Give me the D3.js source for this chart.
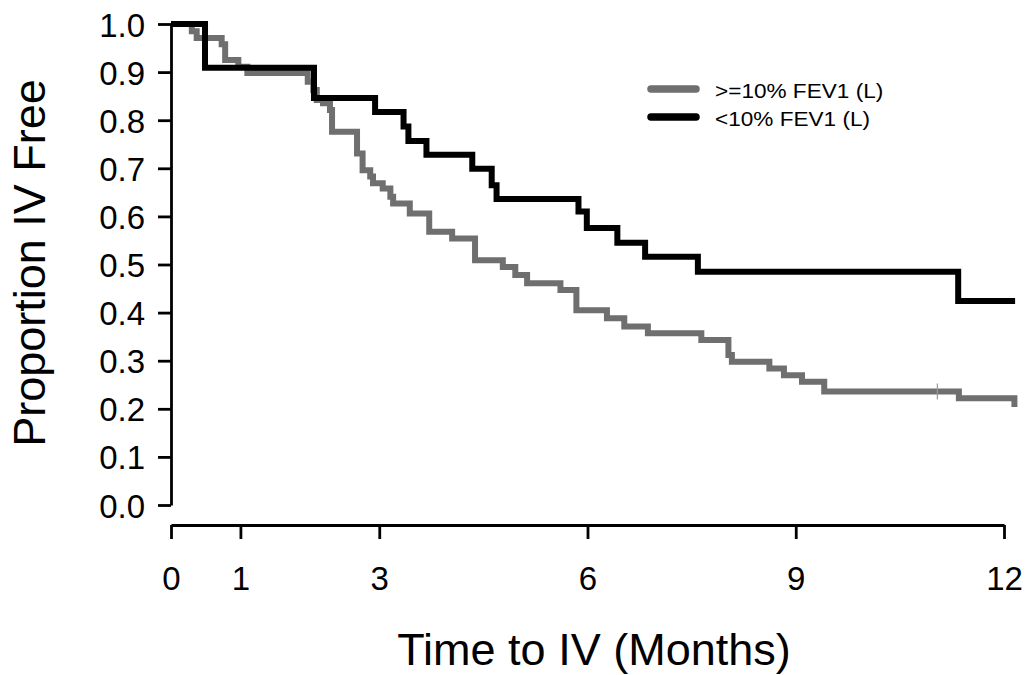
<!DOCTYPE html>
<html>
<head>
<meta charset="utf-8">
<script src="https://cdn.jsdelivr.net/npm/d3@7"></script>
<style>
  html, body { margin: 0; padding: 0; background: #fff; }
  svg { display: block; }
  text { font-family: "Liberation Sans", Arial, Helvetica, sans-serif; fill: #000; }
</style>
</head>
<body>
<svg id="chart" width="1026" height="675"></svg>
<script>
// ---- data ----
const blackLabel = "<10% FEV1 (L)";
const blackT = [0, 0.49, 2.06, 2.94, 3.35, 3.42, 3.68, 4.34, 4.62, 4.69, 5.87, 5.99, 6.43, 6.83, 7.59, 11.34, 12.16];
const blackS = [1.0, 0.909, 0.846, 0.817, 0.787, 0.757, 0.728, 0.699, 0.665, 0.636, 0.610, 0.576, 0.545, 0.516, 0.485, 0.424, 0.424];

const grayLabel = ">=10% FEV1 (L)";
const grayT = [0, 0.30, 0.37, 0.73, 0.78, 0.97, 1.10, 1.97, 2.05, 2.10, 2.19, 2.29, 2.32, 2.68, 2.76, 2.87, 2.91, 3.05, 3.16, 3.20, 3.44, 3.72, 4.05, 4.38, 4.78, 4.96, 5.13, 5.61, 5.84, 6.28, 6.53, 6.87, 7.64, 8.03, 8.08, 8.62, 8.83, 9.09, 9.41, 11.35, 12.15];
const grayS = [1.0, 0.985, 0.971, 0.958, 0.925, 0.911, 0.898, 0.880, 0.863, 0.842, 0.835, 0.821, 0.776, 0.731, 0.696, 0.683, 0.669, 0.658, 0.641, 0.627, 0.606, 0.568, 0.554, 0.509, 0.495, 0.478, 0.461, 0.447, 0.405, 0.388, 0.371, 0.357, 0.343, 0.312, 0.298, 0.284, 0.270, 0.256, 0.236, 0.222, 0.204];
const grayCensorT = [11.04];
const grayCensorS = [0.236];

const xTicks = [0, 1, 3, 6, 9, 12];
const yTicks = [0, 0.1, 0.2, 0.3, 0.4, 0.5, 0.6, 0.7, 0.8, 0.9, 1.0];
const xTitle = "Time to IV (Months)";
const yTitle = "Proportion IV Free";

// ---- layout ----
const svg = d3.select("#chart");
const x = d3.scaleLinear().domain([0, 12]).range([171, 1004]);
const y = d3.scaleLinear().domain([0, 1]).range([505, 24]);
const GRAY = "#6f6f6f";

// y axis
const yAxis = svg.append("g")
  .attr("transform", "translate(171,0)")
  .call(d3.axisLeft(y).tickValues(yTicks).tickSize(13).tickSizeOuter(0).tickPadding(13)
    .tickFormat(d3.format(".1f")));
yAxis.select(".domain").attr("stroke", "#000").attr("stroke-width", 2.8);
yAxis.selectAll(".tick line").attr("stroke", "#000").attr("stroke-width", 2.8);
yAxis.selectAll(".tick text").attr("font-size", 33).attr("dy", "12px")
  .style("font-family", '"Liberation Sans", Arial, sans-serif').attr("fill", "#000");

// x axis
const xAxis = svg.append("g")
  .attr("transform", "translate(0,525)")
  .call(d3.axisBottom(x).tickValues(xTicks).tickSize(14).tickSizeOuter(0).tickPadding(0));
xAxis.select(".domain").attr("stroke", "#000").attr("stroke-width", 2.8);
xAxis.selectAll(".tick line").attr("stroke", "#000").attr("stroke-width", 2.8);
xAxis.selectAll(".tick text").attr("font-size", 33).attr("dy", null).attr("y", 65)
  .style("font-family", '"Liberation Sans", Arial, sans-serif').attr("fill", "#000");

// titles
svg.append("text").attr("x", 594).attr("y", 665).attr("text-anchor", "middle")
  .attr("font-size", 45).text(xTitle);
svg.append("text").attr("transform", "translate(45,263) rotate(-90)").attr("text-anchor", "middle")
  .attr("font-size", 45).text(yTitle);

// curves
const line = d3.line().x(d => x(d[0])).y(d => y(d[1])).curve(d3.curveStepAfter);
const grayData = grayT.map((t, i) => [t, grayS[i]]);
const blackData = blackT.map((t, i) => [t, blackS[i]]);

svg.append("path").attr("d", line(grayData)).attr("fill", "none")
  .attr("stroke", GRAY).attr("stroke-width", 6).attr("stroke-linejoin", "miter").attr("stroke-linecap", "butt");
svg.append("path").attr("d", line(blackData)).attr("fill", "none")
  .attr("stroke", "#000").attr("stroke-width", 6).attr("stroke-linejoin", "miter").attr("stroke-linecap", "butt");

// censor marks
svg.selectAll(".censor").data(grayCensorT.map((t, i) => [t, grayCensorS[i]])).enter()
  .append("line").attr("class", "censor")
  .attr("x1", d => x(d[0])).attr("x2", d => x(d[0]))
  .attr("y1", d => y(d[1]) - 8).attr("y2", d => y(d[1]) + 8)
  .attr("stroke", "#999").attr("stroke-width", 1.2);

// legend
const legend = [
  { label: grayLabel, color: GRAY, ly: 89 },
  { label: blackLabel, color: "#000", ly: 117 }
];
const lg = svg.append("g");
legend.forEach(d => {
  lg.append("line").attr("x1", 651).attr("x2", 696).attr("y1", d.ly).attr("y2", d.ly)
    .attr("stroke", d.color).attr("stroke-width", 7.5).attr("stroke-linecap", "round");
  lg.append("text").attr("transform", `translate(715,${d.ly + 9}) scale(1.13,1)`)
    .attr("font-size", 20).text(d.label);
});
</script>
</body>
</html>
